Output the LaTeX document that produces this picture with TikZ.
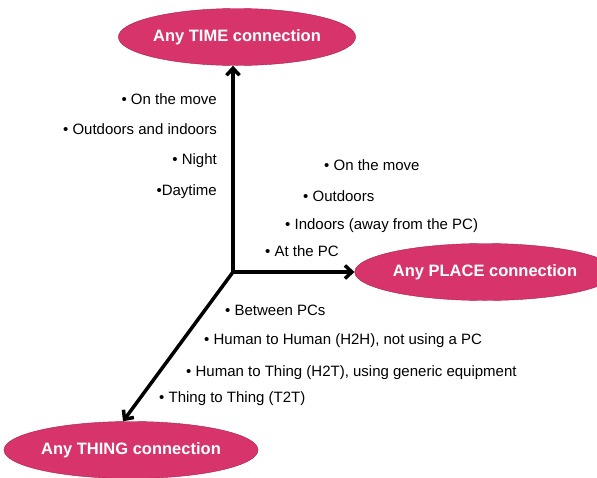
\documentclass[tikz,border=0pt]{standalone}
\usepackage{fontspec}
\setmainfont{Liberation Sans}
\usepackage{tikz}
\usetikzlibrary{arrows.meta,shapes.geometric}
\definecolor{pinkfill}{RGB}{214,52,106}
\definecolor{pinkline}{RGB}{170,30,75}

\begin{document}
\begin{tikzpicture}[x=1pt,y=-1pt,
  oval/.style={ellipse,draw=pinkline,fill=pinkfill,text=white,inner sep=0pt,
    font=\fontsize{16.5}{19}\selectfont\bfseries,minimum height=57pt,minimum width=#1},
  item/.style={font=\fontsize{15}{17}\selectfont,inner sep=0pt},
  ax/.style={line width=3.5pt,-{Straight Barb[length=7pt,width=13pt]}}]
  \useasboundingbox (0,0) rectangle (597,477);
  \coordinate (o) at (233,272);
  \node[oval=215pt] (time) at (237,37) {Any TIME connection};
  \node[oval=226pt] (place) at (485,272) {Any PLACE connection};
  \node[oval=238pt] (thing) at (131,450) {Any THING connection};
  \draw[ax] (o) -- (o |- time.south);
  \draw[ax] (o) -- (place.west);
  \draw[ax] (o) -- ([xshift=-8pt]thing.north);
  % time
  \node[item,anchor=east] (t1) at (217,99) {• On the move};
  \node[item,anchor=east] (t2) at (217,129) {• Outdoors and indoors};
  \node[item,anchor=east] (t3) at (217,161) {• Night};
  \node[item,anchor=east] (t4) at (217,192) {•Daytime};
  % place
  \node[item,anchor=west] (p1) at (324,165) {• On the move};
  \node[item,anchor=west] (p2) at (303,196) {• Outdoors};
  \node[item,anchor=west] (p3) at (285,226) {• Indoors (away from the PC)};
  \node[item,anchor=west] (p4) at (265,251) {• At the PC};
  % thing
  \node[item,anchor=west] (h1) at (225,310) {• Between PCs};
  \node[item,anchor=west] (h2) at (204,341) {• Human to Human (H2H), not using a PC};
  \node[item,anchor=west] (h3) at (186,373) {• Human to Thing (H2T), using generic equipment};
  \node[item,anchor=west] (h4) at (159,399) {• Thing to Thing (T2T)};
\end{tikzpicture}
\end{document}
